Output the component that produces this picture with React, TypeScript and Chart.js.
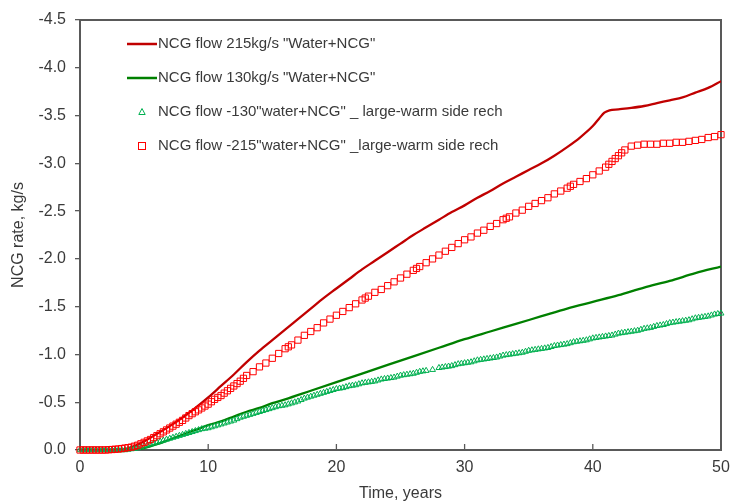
import React, { useEffect, useRef } from "react";
import { Chart, registerables } from "chart.js";

Chart.register(...registerables);

// ---- Data ----
const redLineYears = [0, 1, 2, 3, 3.5, 4, 5, 6, 7, 8, 9, 10, 11, 12, 13, 14, 15, 16, 17, 18, 19, 20, 21, 22, 23, 24, 25, 26, 27, 28, 29, 30, 31, 32, 33, 34, 35, 36, 37, 38, 39, 40, 40.5, 40.9, 41.3, 42, 43, 44, 45, 46, 47, 48, 49, 50];
const redLineRates = [0, 0, 0, -0.005, -0.01, -0.03, -0.09, -0.17, -0.25, -0.34, -0.44, -0.55, -0.67, -0.79, -0.92, -1.04, -1.15, -1.26, -1.37, -1.48, -1.59, -1.69, -1.79, -1.89, -1.98, -2.07, -2.16, -2.25, -2.33, -2.41, -2.49, -2.56, -2.64, -2.71, -2.79, -2.86, -2.93, -3.0, -3.08, -3.17, -3.27, -3.39, -3.47, -3.53, -3.555, -3.565, -3.58, -3.6, -3.63, -3.66, -3.69, -3.74, -3.79, -3.86];

const greenLineYears = [0, 3.5, 4, 4.5, 5, 6, 7, 8, 9, 10, 11, 12, 13, 14, 15, 16, 18, 20, 22, 24, 26, 28, 30, 32, 34, 36, 38, 40, 42, 44, 46, 48, 50];
const greenLineRates = [0, 0, -0.003, -0.01, -0.02, -0.06, -0.11, -0.16, -0.21, -0.26, -0.3, -0.35, -0.4, -0.44, -0.49, -0.53, -0.62, -0.71, -0.8, -0.89, -0.98, -1.07, -1.16, -1.24, -1.32, -1.4, -1.48, -1.55, -1.62, -1.7, -1.77, -1.85, -1.92];

const markerYears = [0, 0.5, 1, 1.5, 2, 2.5, 3, 3.5, 4, 4.5, 5, 5.5, 6, 6.5, 7, 7.5, 8, 8.5, 9, 9.5, 10, 10.5, 11, 11.5, 12, 12.5, 13, 13.5, 14, 14.5, 15, 15.5, 16, 16.5, 17, 17.5, 18, 18.5, 19, 19.5, 20, 20.5, 21, 21.5, 22, 22.5, 23, 23.5, 24, 24.5, 25, 25.5, 26, 26.5, 27, 27.5, 28, 28.5, 29, 29.5, 30, 30.5, 31, 31.5, 32, 32.5, 33, 33.5, 34, 34.5, 35, 35.5, 36, 36.5, 37, 37.5, 38, 38.5, 39, 39.5, 40, 40.5, 41, 41.5, 42, 42.5, 43, 43.5, 44, 44.5, 45, 45.5, 46, 46.5, 47, 47.5, 48, 48.5, 49, 49.5, 50];

const warm215Rates = [0, 0, 0, 0, 0, -0.005, -0.01, -0.02, -0.03, -0.05, -0.08, -0.11, -0.15, -0.19, -0.23, -0.27, -0.31, -0.36, -0.4, -0.44, -0.48, -0.53, -0.57, -0.62, -0.67, -0.72, -0.78, -0.82, -0.87, -0.91, -0.96, -1.01, -1.06, -1.1, -1.15, -1.2, -1.24, -1.28, -1.33, -1.37, -1.41, -1.45, -1.49, -1.53, -1.57, -1.61, -1.65, -1.68, -1.72, -1.76, -1.8, -1.84, -1.88, -1.92, -1.96, -2.0, -2.04, -2.08, -2.12, -2.16, -2.2, -2.23, -2.27, -2.3, -2.34, -2.37, -2.41, -2.44, -2.48, -2.51, -2.55, -2.58, -2.61, -2.64, -2.68, -2.71, -2.74, -2.78, -2.81, -2.84, -2.88, -2.92, -2.96, -3.02, -3.08, -3.14, -3.18, -3.19, -3.2, -3.2, -3.2, -3.21, -3.21, -3.22, -3.22, -3.23, -3.24, -3.25, -3.27, -3.28, -3.3];

const warm130Rates = [0, 0, 0, 0, 0, 0, 0, 0, -0.01, -0.02, -0.04, -0.06, -0.08, -0.1, -0.12, -0.14, -0.16, -0.18, -0.2, -0.22, -0.23, -0.25, -0.27, -0.29, -0.31, -0.34, -0.36, -0.38, -0.4, -0.42, -0.44, -0.46, -0.47, -0.49, -0.51, -0.54, -0.56, -0.58, -0.6, -0.62, -0.64, -0.65, -0.67, -0.68, -0.7, -0.71, -0.72, -0.74, -0.75, -0.76, -0.78, -0.79, -0.8, -0.82, -0.83, -0.84, -0.86, -0.87, -0.88, -0.9, -0.91, -0.92, -0.94, -0.95, -0.96, -0.97, -0.99, -1.0, -1.01, -1.02, -1.04, -1.05, -1.06, -1.07, -1.09, -1.1, -1.11, -1.13, -1.14, -1.15, -1.17, -1.18, -1.19, -1.2, -1.22, -1.23, -1.24, -1.25, -1.27, -1.28, -1.3, -1.31, -1.33, -1.34, -1.35, -1.36, -1.38, -1.39, -1.4, -1.42, -1.43];

// Extra (denser) samples of the marker series
const quarterYears = [0.25, 0.75, 1.25, 1.75, 2.25, 2.75, 3.25, 3.75, 4.25, 4.75, 5.25, 5.75, 6.25, 6.75, 7.25, 7.75, 8.25, 8.75, 9.25, 9.75, 10.25, 10.75, 11.25, 11.75, 12.25, 12.75, 13.25, 13.75, 14.25, 14.75, 15.25, 15.75, 16.25, 16.75, 17.25, 17.75, 18.25, 18.75, 19.25, 19.75, 20.25, 20.75, 21.25, 21.75, 22.25, 22.75, 23.25, 23.75, 24.25, 24.75, 25.25, 25.75, 26.25, 26.75, 27.25, 27.75, 28.25, 28.75, 29.25, 29.75, 30.25, 30.75, 31.25, 31.75, 32.25, 32.75, 33.25, 33.75, 34.25, 34.75, 35.25, 35.75, 36.25, 36.75, 37.25, 37.75, 38.25, 38.75, 39.25, 39.75, 40.25, 40.75, 41.25, 41.75, 42.25, 42.75, 43.25, 43.75, 44.25, 44.75, 45.25, 45.75, 46.25, 46.75, 47.25, 47.75, 48.25, 48.75, 49.25, 49.75];
const warm130QuarterRates = [0, 0, 0, 0, 0, 0, 0, -0.005, -0.015, -0.03, -0.05, -0.07, -0.09, -0.11, -0.13, -0.15, -0.17, -0.19, -0.21, -0.225, -0.24, -0.26, -0.28, -0.3, -0.325, -0.35, -0.37, -0.39, -0.41, -0.43, -0.45, -0.465, -0.48, -0.5, -0.525, -0.55, -0.57, -0.59, -0.61, -0.63, -0.645, -0.66, -0.675, -0.69, -0.705, -0.715, -0.73, -0.745, -0.755, -0.77, -0.785, -0.795, -0.81, -0.825, null, null, -0.865, -0.875, -0.89, -0.905, -0.915, -0.93, -0.945, -0.955, -0.965, -0.98, -0.995, -1.005, -1.015, -1.03, -1.045, -1.055, -1.065, -1.08, -1.095, -1.105, -1.12, -1.135, -1.145, -1.16, -1.175, -1.185, -1.195, -1.21, -1.225, -1.235, -1.245, -1.26, -1.275, -1.29, -1.305, -1.32, -1.335, -1.345, -1.355, -1.37, -1.385, -1.395, -1.41, -1.425];

const warm215ExtraYears = [0.25, 0.75, 1.25, 1.75, 2.25, 2.75, 3.25, 3.75, 4.25, 4.75, 5.25, 5.75, 6.25, 6.75, 7.25, 7.75, 8.25, 8.75, 9.25, 9.75, 10.25, 10.75, 11.25, 11.75, 12.25, 12.75, 16.25, 22.25, 26.25, 33.25, 38.25, 41.25, 41.75, 42.25];
const warm215ExtraRates = [0, 0, 0, 0, -0.003, -0.008, -0.015, -0.025, -0.04, -0.065, -0.095, -0.13, -0.17, -0.21, -0.25, -0.29, -0.335, -0.38, -0.42, -0.46, -0.505, -0.55, -0.595, -0.645, -0.695, -0.75, -1.08, -1.59, -1.9, -2.425, -2.76, -2.99, -3.05, -3.11];

const seriesLabels = [
  'NCG flow 215kg/s "Water+NCG"',
  'NCG flow 130kg/s "Water+NCG"',
  'NCG flow -130"water+NCG" _ large-warm side rech',
  'NCG flow -215"water+NCG" _large-warm side rech',
];

const xTickValues = [0, 10, 20, 30, 40, 50];
const yMin = -4.5;
const yMax = 0;
const yStep = 0.5;
const xTitle = "Time, years";
const yTitle = "NCG rate, kg/s";

const FONT = "'Liberation Sans', Arial, sans-serif";
const TEXT = "#3a3a3a";
const AXIS = "#595959";
const RED_LINE = "#c00000";
const GREEN_LINE = "#008000";
const RED_MARK = "#ff0000";
const GREEN_MARK = "#00b050";

const pts = (xs: number[], ys: (number | null)[]) =>
  xs.map((x, i) => ({ x, y: ys[i] }));

export default function App() {
  const ref = useRef<HTMLCanvasElement | null>(null);

  useEffect(() => {
    document.body.style.margin = "0";
    const canvas = ref.current!;

    const framePlugin = {
      id: "frame",
      beforeDatasetsDraw(chart: any) {
        const { ctx, chartArea: a, scales } = chart;
        ctx.save();
        ctx.strokeStyle = AXIS;
        ctx.lineWidth = 2;
        ctx.strokeRect(a.left, a.top, a.right - a.left, a.bottom - a.top);
        ctx.lineWidth = 1.3;
        xTickValues.forEach((v) => {
          const x = scales.x.getPixelForValue(v);
          ctx.beginPath();
          ctx.moveTo(x, a.bottom);
          ctx.lineTo(x, a.bottom - 6);
          ctx.stroke();
        });
        ctx.restore();
      },
    };

    const legendPlugin = {
      id: "innerLegend",
      afterDraw(chart: any) {
        const { ctx, chartArea: a } = chart;
        const rows = [a.top + 24, a.top + 58, a.top + 92, a.top + 126];
        const textX = a.left + 78;
        const symX = a.left + 62;
        ctx.save();
        ctx.font = `15px ${FONT}`;
        ctx.fillStyle = TEXT;
        ctx.textBaseline = "middle";
        ctx.textAlign = "left";
        ctx.lineWidth = 2.5;
        ctx.strokeStyle = RED_LINE;
        ctx.beginPath();
        ctx.moveTo(a.left + 47, rows[0]);
        ctx.lineTo(a.left + 77, rows[0]);
        ctx.stroke();
        ctx.strokeStyle = GREEN_LINE;
        ctx.beginPath();
        ctx.moveTo(a.left + 47, rows[1]);
        ctx.lineTo(a.left + 77, rows[1]);
        ctx.stroke();
        ctx.lineWidth = 1;
        ctx.strokeStyle = GREEN_MARK;
        ctx.beginPath();
        ctx.moveTo(symX, rows[2] - 3.5);
        ctx.lineTo(symX + 3.2, rows[2] + 2.5);
        ctx.lineTo(symX - 3.2, rows[2] + 2.5);
        ctx.closePath();
        ctx.stroke();
        ctx.strokeStyle = RED_MARK;
        ctx.strokeRect(symX - 3.5, rows[3] - 3.5, 7, 7);
        seriesLabels.forEach((t, i) => ctx.fillText(t, textX, rows[i]));
        ctx.restore();
      },
    };

    const chart = new Chart(canvas, {
      type: "scatter",
      data: {
        datasets: [
          {
            label: seriesLabels[3],
            data: [
              ...pts(markerYears, warm215Rates),
              ...pts(warm215ExtraYears, warm215ExtraRates),
            ],
            pointStyle: "rect",
            pointRadius: 4.4,
            pointBorderWidth: 1,
            pointBorderColor: RED_MARK,
            pointBackgroundColor: "rgba(0,0,0,0)",
            showLine: false,
            order: 0,
            clip: false,
          } as any,
          {
            label: seriesLabels[2],
            data: [
              ...pts(markerYears, warm130Rates),
              ...pts(quarterYears, warm130QuarterRates),
            ],
            pointStyle: "triangle",
            pointRadius: 3.4,
            pointBorderWidth: 1,
            pointBorderColor: GREEN_MARK,
            pointBackgroundColor: "rgba(0,0,0,0)",
            showLine: false,
            order: 1,
            clip: false,
          } as any,
          {
            label: seriesLabels[0],
            data: pts(redLineYears, redLineRates),
            showLine: true,
            borderColor: RED_LINE,
            borderWidth: 2.3,
            pointRadius: 0,
            cubicInterpolationMode: "monotone",
            order: 2,
          } as any,
          {
            label: seriesLabels[1],
            data: pts(greenLineYears, greenLineRates),
            showLine: true,
            borderColor: GREEN_LINE,
            borderWidth: 2.3,
            pointRadius: 0,
            cubicInterpolationMode: "monotone",
            order: 3,
          } as any,
        ],
      },
      options: {
        responsive: false,
        animation: false,
        devicePixelRatio: 1,
        layout: { padding: { top: 20, right: 11, left: 0, bottom: 0 } },
        plugins: {
          legend: { display: false },
          tooltip: { enabled: false },
        },
        scales: {
          x: {
            type: "linear",
            min: 0,
            max: 50,
            afterFit: (s: any) => {
              s.height = 52;
              s.paddingRight = 0;
              s.paddingLeft = 0;
            },
            afterBuildTicks: (s: any) => {
              s.ticks = xTickValues.map((v) => ({ value: v }));
            },
            ticks: {
              color: TEXT,
              font: { family: FONT, size: 16 },
              padding: 8,
              maxRotation: 0,
            },
            grid: { display: true, drawOnChartArea: false, drawTicks: false },
            border: { display: true, color: AXIS, width: 2 },
            title: {
              display: true,
              text: xTitle,
              color: TEXT,
              font: { family: FONT, size: 16 },
              padding: { top: 0, bottom: -1 },
            },
          },
          y: {
            type: "linear",
            min: yMin,
            max: yMax,
            reverse: true,
            afterFit: (s: any) => {
              s.width = 80;
              s.paddingTop = 0;
              s.paddingBottom = 0;
            },
            ticks: {
              stepSize: yStep,
              color: TEXT,
              font: { family: FONT, size: 16 },
              padding: 9,
              callback: (v: any) => Number(v).toFixed(1),
            },
            grid: {
              display: true,
              drawOnChartArea: false,
              drawTicks: true,
              tickLength: 5,
              color: AXIS,
              lineWidth: 1.3,
            },
            border: { display: true, color: AXIS, width: 2 },
            title: {
              display: true,
              text: yTitle,
              color: TEXT,
              font: { family: FONT, size: 16 },
              padding: { top: 9, bottom: 0 },
            },
          },
        },
      },
      plugins: [framePlugin, legendPlugin],
    } as any);

    return () => chart.destroy();
  }, []);

  return (
    <div style={{ width: 732, height: 502 }}>
      <canvas ref={ref} width={732} height={502} style={{ display: "block" }} />
    </div>
  );
}
